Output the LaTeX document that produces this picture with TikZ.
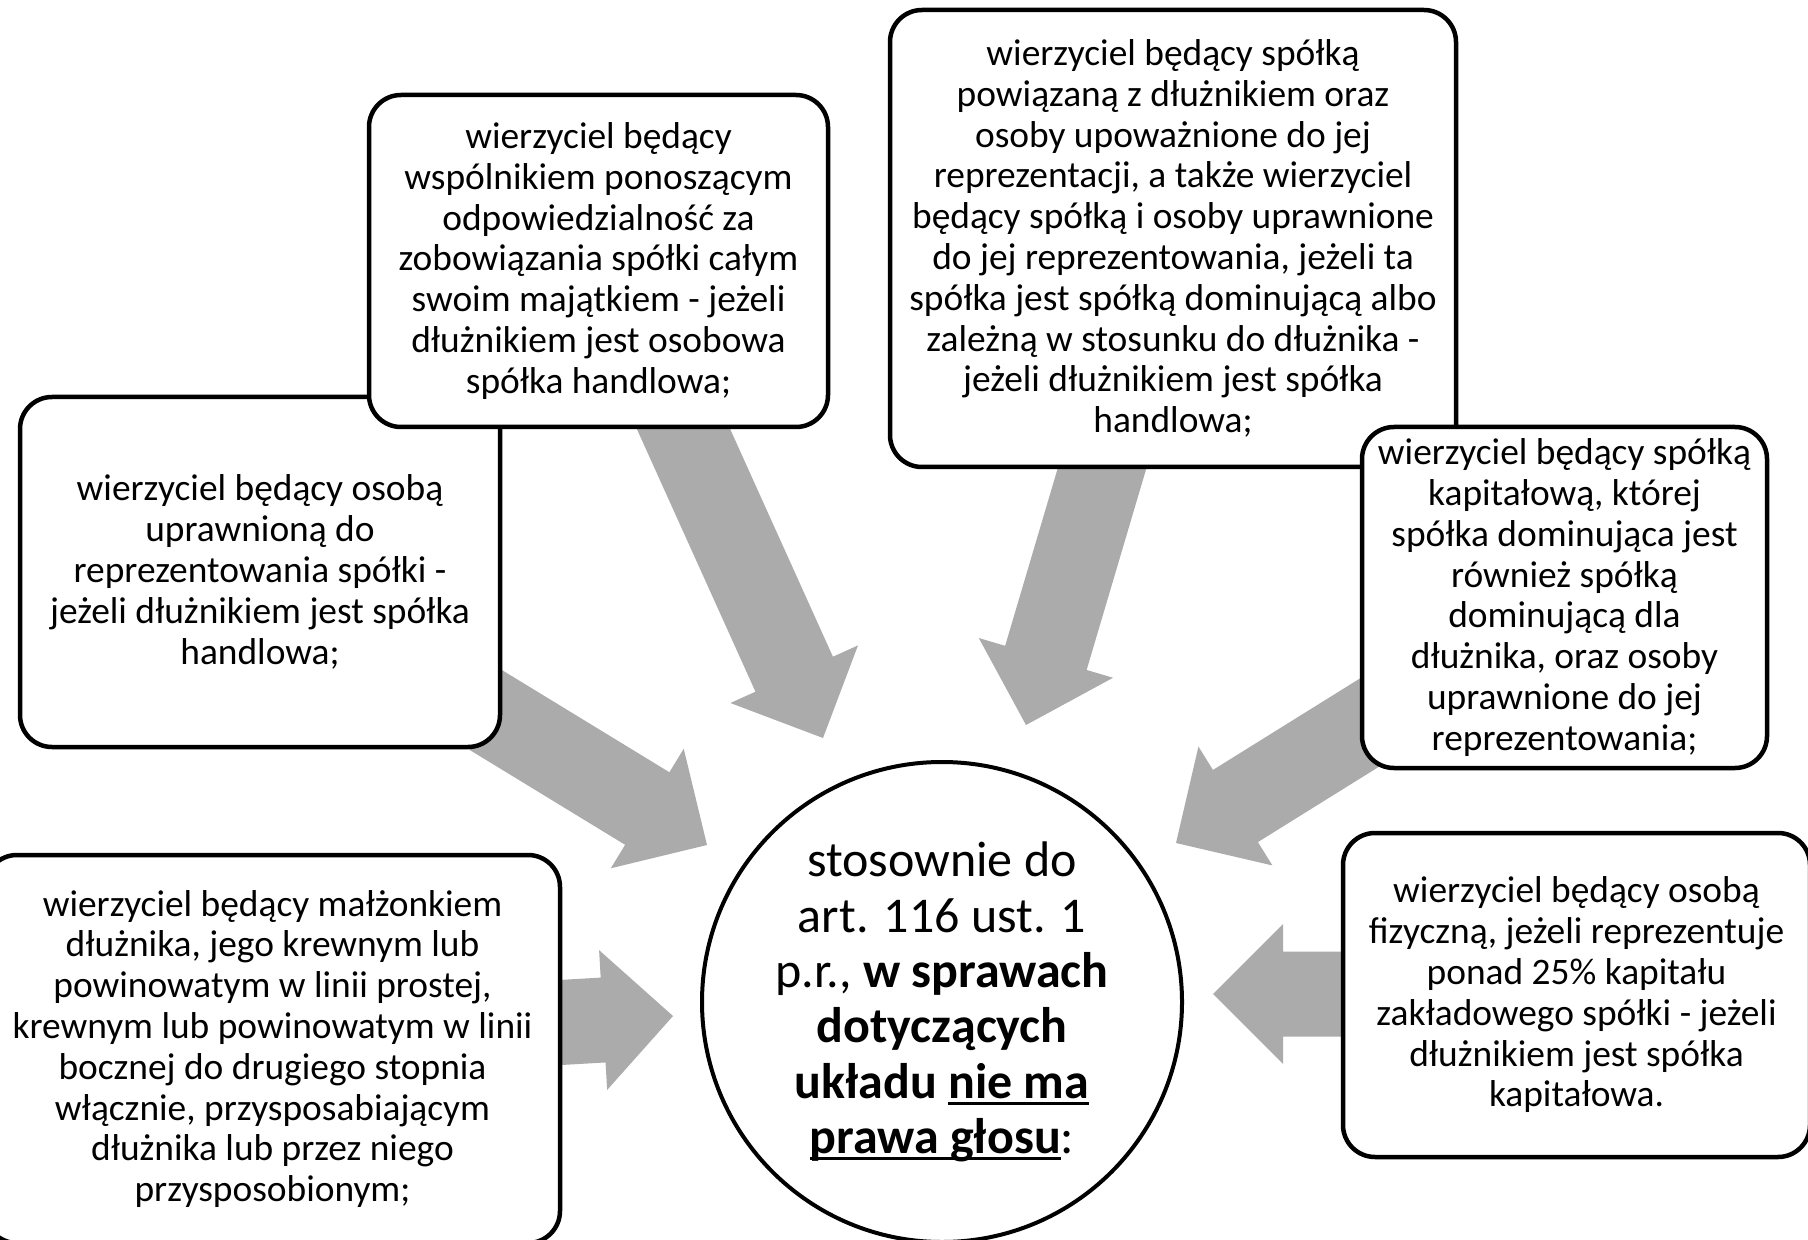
\documentclass[tikz,border=0pt]{standalone}
\usepackage{fontspec}
\setmainfont{Carlito}
\newsavebox\ulbox
\newcommand\myul[1]{\sbox\ulbox{#1}\rlap{\rule[-3.2pt]{\wd\ulbox}{1.3pt}}\usebox\ulbox}
\definecolor{arrowgray}{HTML}{ABABAB}
\tikzset{
  box/.style={draw=black, line width=2.25pt, fill=white, rounded corners=16pt,
    align=center, inner sep=0pt,
    font=\fontsize{18.7}{20.4}\selectfont},
  hub/.style={draw=black, line width=2pt, fill=white, circle, align=center,
    inner sep=0pt, minimum size=240pt,
    font=\fontsize{25}{27.7}\selectfont},
  arrowfill/.style={fill=arrowgray}
}
% block arrow: #1 tip coordinate, #2 canvas rotation, #3 length (px)
\newcommand\barrow[3]{%
  \begin{scope}[shift={(#1)}, rotate=#2]
    \fill[arrowfill] (0,0) -- (-70,70) -- (-70,42.5) -- (-#3,42.5)
      -- (-#3,-42.5) -- (-70,-42.5) -- (-70,-70) -- cycle;
  \end{scope}}
\begin{document}
\begin{tikzpicture}[x=0.5pt, y=-0.5pt]
\useasboundingbox (0,0) rectangle (1808,1240);
\fill[white] (0,0) rectangle (1808,1240);

% arrow tips
\coordinate (tA) at (823,738);
\coordinate (tB) at (707,845);
\coordinate (tC) at (673,1016);
\coordinate (tD) at (1026,725);
\coordinate (tE) at (1176,843);
\coordinate (tF) at (1213,994);

\barrow{tA}{-65.7}{360}
\barrow{tB}{-31.4}{300}
\barrow{tC}{3.3}{220}
\barrow{tD}{-106.5}{300}
\barrow{tE}{-148.1}{280}
\barrow{tF}{180}{250}

\node[box, minimum width=240pt, minimum height=175pt] (B) at (260,572)
  {wierzyciel będący osobą\\ uprawnioną do\\ reprezentowania spółki -\\ jeżeli dłużnikiem jest spółka\\ handlowa;};

\node[box, minimum width=229.5pt, minimum height=166pt] (A) at (598.5,261)
  {wierzyciel będący\\ wspólnikiem ponoszącym\\ odpowiedzialność za\\ zobowiązania spółki całym\\ swoim majątkiem - jeżeli\\ dłużnikiem jest osobowa\\ spółka handlowa;};

\node[box, minimum width=287.5pt, minimum height=194pt] (C) at (272.5,1049)
  {wierzyciel będący małżonkiem\\ dłużnika, jego krewnym lub\\ powinowatym w linii prostej,\\ krewnym lub powinowatym w linii\\ bocznej do drugiego stopnia\\ włącznie, przysposabiającym\\ dłużnika lub przez niego\\ przysposobionym;};

\node[box, minimum width=283pt, minimum height=228.5pt] (D) at (1173,238.5)
  {wierzyciel będący spółką\\ powiązaną z dłużnikiem oraz\\ osoby upoważnione do jej\\ reprezentacji, a także wierzyciel\\ będący spółką i osoby uprawnione\\ do jej reprezentowania, jeżeli ta\\ spółka jest spółką dominującą albo\\ zależną w stosunku do dłużnika -\\ jeżeli dłużnikiem jest spółka\\ handlowa;};

\node[box, minimum width=202.5pt, minimum height=170.5pt] (E) at (1564.5,597.5)
  {wierzyciel będący spółką\\ kapitałową, której\\ spółka dominująca jest\\ również spółką\\ dominującą dla\\ dłużnika, oraz osoby\\ uprawnione do jej\\ reprezentowania;};

\node[box, minimum width=233.5pt, minimum height=162pt] (F) at (1576.5,995)
  {wierzyciel będący osobą\\ fizyczną, jeżeli reprezentuje\\ ponad 25\% kapitału\\ zakładowego spółki - jeżeli\\ dłużnikiem jest spółka\\ kapitałowa.};

\node[hub] (hub) at (942,1002)
  {stosownie do\\ art. 116 ust. 1\\ p.r., \textbf{w sprawach}\\ \textbf{dotyczących}\\ \textbf{układu \myul{nie ma}}\\ \textbf{\myul{prawa głosu}}:};
\end{tikzpicture}
\end{document}
